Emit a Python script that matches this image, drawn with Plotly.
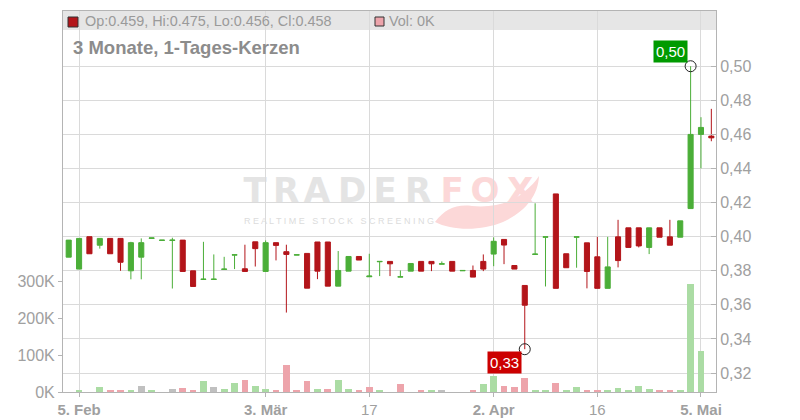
import plotly.graph_objects as go

# ---------------- data ----------------
dates = [
    "2025-02-04", "2025-02-05", "2025-02-06", "2025-02-07", "2025-02-10", "2025-02-11", "2025-02-12",
    "2025-02-13", "2025-02-14", "2025-02-17", "2025-02-18", "2025-02-19", "2025-02-20", "2025-02-21",
    "2025-02-24", "2025-02-25", "2025-02-26", "2025-02-27", "2025-02-28",
    "2025-03-03", "2025-03-04", "2025-03-05", "2025-03-06", "2025-03-07", "2025-03-10", "2025-03-11",
    "2025-03-12", "2025-03-13", "2025-03-14", "2025-03-17", "2025-03-18", "2025-03-19", "2025-03-20",
    "2025-03-21", "2025-03-24", "2025-03-25", "2025-03-26", "2025-03-27", "2025-03-28", "2025-03-31",
    "2025-04-01", "2025-04-02", "2025-04-03", "2025-04-04", "2025-04-07", "2025-04-08", "2025-04-09",
    "2025-04-10", "2025-04-11", "2025-04-14", "2025-04-15", "2025-04-16", "2025-04-17", "2025-04-22",
    "2025-04-23", "2025-04-24", "2025-04-25", "2025-04-28", "2025-04-29", "2025-04-30",
    "2025-05-02", "2025-05-05", "2025-05-06",
]
opens = [0.388, 0.381, 0.400, 0.395, 0.399, 0.399, 0.380, 0.388, 0.3990, 0.3978,
         0.3978, 0.398, 0.380, 0.3749, 0.3749, 0.3808, 0.3892, 0.3812, 0.397, 0.3796,
         0.3965, 0.3912, 0.3892, 0.3902, 0.3969, 0.3969, 0.371, 0.3798, 0.3884, 0.3765,
         0.3853, 0.3855, 0.3763, 0.3798, 0.3855, 0.3855, 0.3839, 0.3855, 0.3800, 0.3802,
         0.3855, 0.3898, 0.3984, 0.3831, 0.3714, 0.3896, 0.3997, 0.4251, 0.390, 0.3997,
         0.3964, 0.3882, 0.3697, 0.3999, 0.4052, 0.4052, 0.3937, 0.4052, 0.3999, 0.3997,
         0.4165, 0.460, 0.459]
highs = [0.398, 0.399, 0.400, 0.399, 0.399, 0.399, 0.397, 0.399, 0.3993, 0.398,
         0.3994, 0.398, 0.380, 0.397, 0.3896, 0.3882, 0.3894, 0.3953, 0.397, 0.3978,
         0.3965, 0.3953, 0.3894, 0.3902, 0.3969, 0.3969, 0.3916, 0.3884, 0.3884, 0.390,
         0.3855, 0.3855, 0.3802, 0.3843, 0.3855, 0.3855, 0.3855, 0.3855, 0.3802, 0.3831,
         0.3896, 0.3996, 0.3984, 0.3831, 0.3714, 0.4196, 0.3999, 0.4251, 0.390, 0.3999,
         0.3964, 0.3999, 0.3999, 0.4099, 0.4052, 0.4052, 0.4052, 0.4052, 0.4099, 0.4093,
         0.500, 0.4701, 0.475]
lows = [0.388, 0.381, 0.390, 0.393, 0.390, 0.380, 0.375, 0.375, 0.3990, 0.3978,
        0.3696, 0.3796, 0.3708, 0.3749, 0.3749, 0.3808, 0.381, 0.3796, 0.3825, 0.3796,
        0.3861, 0.3555, 0.3892, 0.3698, 0.3751, 0.371, 0.371, 0.3798, 0.3863, 0.3765,
        0.3769, 0.3769, 0.3763, 0.3798, 0.3798, 0.3798, 0.3839, 0.3798, 0.3800, 0.3763,
        0.3798, 0.3827, 0.3839, 0.381, 0.334, 0.3896, 0.3708, 0.3697, 0.3818, 0.3818,
        0.3697, 0.3697, 0.3697, 0.382, 0.3937, 0.3937, 0.3898, 0.3997, 0.395, 0.3997,
        0.4165, 0.4401, 0.456]
closes = [0.398, 0.399, 0.390, 0.399, 0.390, 0.385, 0.3965, 0.3965, 0.3993, 0.398,
          0.398, 0.3796, 0.3708, 0.3751, 0.3751, 0.381, 0.3894, 0.3796, 0.393, 0.3965,
          0.3949, 0.3896, 0.3894, 0.3698, 0.3798, 0.371, 0.3802, 0.3884, 0.3863, 0.3769,
          0.3855, 0.3841, 0.3765, 0.3843, 0.3798, 0.3841, 0.3841, 0.3798, 0.3802, 0.3763,
          0.381, 0.3973, 0.3951, 0.381, 0.3598, 0.3898, 0.3999, 0.3697, 0.3818, 0.3999,
          0.3796, 0.3697, 0.3823, 0.386, 0.3937, 0.3946, 0.4052, 0.3997, 0.395, 0.4093,
          0.460, 0.4641, 0.458]
volumes_k = [0, 3.6, 0, 14.4, 6.3, 6.3, 3.6, 17, 6.3, 0,
             9, 11.7, 3.6, 30.6, 14.4, 9, 25, 33, 17, 9,
             6.3, 74, 3.6, 30.6, 9, 9, 33, 9, 3.6, 14.4,
             6.3, 0, 22.5, 0, 5.4, 5.4, 5.4, 0, 0, 5.4,
             22.5, 44, 17, 14.4, 38.7, 6.3, 3.6, 25, 3.6, 14.4,
             6.3, 6.3, 6.3, 11.7, 3.6, 17, 9, 3.6, 3.6, 6.3,
             293, 112, 0]

tick_dates = ["2025-02-05", "2025-03-03", "2025-03-17", "2025-04-02", "2025-04-16", "2025-05-05"]
tick_labels = ["<b>5. Feb</b>", "<b>3. Mär</b>", "17", "<b>2. Apr</b>", "16", "<b>5. Mai</b>"]
price_ticks = [0.32, 0.34, 0.36, 0.38, 0.40, 0.42, 0.44, 0.46, 0.48, 0.50]
price_labels = ["0,32", "0,34", "0,36", "0,38", "0,40", "0,42", "0,44", "0,46", "0,48", "0,50"]
vol_ticks = [0, 100000, 200000, 300000]
vol_labels = ["0K", "100K", "200K", "300K"]

hi_date, hi_val, hi_text = "2025-05-02", 0.500, "0,50"
lo_date, lo_val, lo_text = "2025-04-07", 0.334, "0,33"
header_text = "Op:0.459, Hi:0.475, Lo:0.456, Cl:0.458"
vol_header = "Vol: 0K"
title_text = "3 Monate, 1-Tages-Kerzen"
wm_letters = ["T", "R", "A", "D", "E", "R", "F", "O", "X"]
wm_sub = "R E A L T I M E   S T O C K   S C R E E N I N G"

# ---------------- styles ----------------
GREEN = "#4bae38"
RED = "#b3151a"
V_GREEN = "#abdca4"
V_RED = "#eda4ab"
V_GRAY = "#c0c0c0"
GRID = "#dadada"
AXIS = "#b4b4b4"
TXT = "#a0a0a0"
FONT = "Liberation Sans, Arial, sans-serif"
WM_GRAY = "#e4e4e4"
WM_PINK = "#fcd8d8"

vol_colors = []
for i, c in enumerate(closes):
    if i == 0:
        vol_colors.append(V_GREEN)
    elif c > closes[i - 1]:
        vol_colors.append(V_GREEN)
    elif c < closes[i - 1]:
        vol_colors.append(V_RED)
    else:
        vol_colors.append(V_GRAY)

fig = go.Figure()
fig.add_trace(go.Bar(
    x=dates, y=[v * 1000 for v in volumes_k], marker=dict(color=vol_colors, line=dict(width=0)),
    width=0.65, yaxis="y", hoverinfo="skip",
))
fig.add_trace(go.Candlestick(
    x=dates, open=opens, high=highs, low=lows, close=closes, yaxis="y2",
    increasing=dict(line=dict(color=GREEN, width=1), fillcolor=GREEN),
    decreasing=dict(line=dict(color=RED, width=1), fillcolor=RED),
    whiskerwidth=0,
))
fig.add_trace(go.Scatter(
    x=[hi_date, lo_date], y=[hi_val, lo_val], yaxis="y2", mode="markers",
    marker=dict(symbol="circle-open", size=11, color="#222222", line=dict(width=1)),
    hoverinfo="skip",
))

# page body has an 8px margin: figure placed so that the plot area lands at
# screen x 63..716, y 11..392
OFF = 8
FW, FH = 800 - OFF, 420 - OFF
PL, PR, PT, PB = 63, 716, 11, 392
PW, PH = PR - PL, PB - PT


def px(x):
    return (x - PL) / PW


def py(y):
    return (PB - y) / PH


shapes = [
    dict(type="rect", xref="paper", yref="paper", x0=0, x1=1, y0=py(30), y1=1,
         fillcolor="#e6e6e6", line=dict(width=0), layer="below"),
    dict(type="rect", xref="paper", yref="paper", x0=px(68), x1=px(78), y0=py(27), y1=py(17),
         fillcolor=RED, line=dict(color="#333333", width=1)),
    dict(type="rect", xref="paper", yref="paper", x0=px(375), x1=px(384), y0=py(26), y1=py(17),
         fillcolor=V_RED, line=dict(color="#333333", width=1)),
]

# watermark (below the grid): fox tail + letters as shape labels
tail_pts = "M {a},{b} C {c},{d} {e},{f} {g},{h} C {i},{j} {k},{l} {m},{n} C {o},{p} {q},{r} {s},{t} " \
           "C {u},{v} {w},{x} {y},{z} C {A},{B} {C},{D} {a},{b} Z"
vals = dict(
    a=px(435), b=py(222),
    c=px(445), d=py(209), e=px(456), f=py(204), g=px(472), h=py(206),
    i=px(492), j=py(208), k=px(512), l=py(203), m=px(524), n=py(192),
    o=px(531), p=py(186), q=px(536), r=py(181), s=px(539), t=py(176),
    u=px(538), v=py(196), w=px(525), x=py(212), y=px(503), z=py(222),
    A=px(482), B=py(231), C=px(452), D=py(231),
)
shapes.append(dict(type="path", xref="paper", yref="paper", path=tail_pts.format(**vals),
                   fillcolor=WM_PINK, line=dict(width=0), layer="below"))
wm_x = [255, 286, 317, 352, 385, 418, 452, 485, 520]
for ch, xc in zip(wm_letters, wm_x):
    col = WM_GRAY if xc < 440 else WM_PINK
    shapes.append(dict(type="rect", xref="paper", yref="paper",
                       x0=px(xc - 15), x1=px(xc + 15), y0=py(208), y1=py(168),
                       fillcolor="rgba(0,0,0,0)", line=dict(width=0), layer="below",
                       label=dict(text="<b>" + ch + "</b>", textposition="middle center",
                                  font=dict(family="DejaVu Sans", size=34, color=col))))
shapes.append(dict(type="rect", xref="paper", yref="paper",
                   x0=px(239), x1=px(439), y0=py(227), y1=py(212),
                   fillcolor="rgba(0,0,0,0)", line=dict(width=0), layer="below",
                   label=dict(text=wm_sub, textposition="middle center",
                              font=dict(family=FONT, size=9, color="#dcdcdc"))))

annotations = [
    dict(xref="paper", yref="paper", x=px(83), y=py(21.5), text=header_text, showarrow=False,
         xanchor="left", yanchor="middle", font=dict(family=FONT, size=14.4, color="#9a9a9a")),
    dict(xref="paper", yref="paper", x=px(387), y=py(21.5), text=vol_header, showarrow=False,
         xanchor="left", yanchor="middle", font=dict(family=FONT, size=14.4, color="#9a9a9a")),
    dict(xref="paper", yref="paper", x=px(71), y=py(47), text="<b>" + title_text + "</b>", showarrow=False,
         xanchor="left", yanchor="middle", font=dict(family=FONT, size=18.5, color="#8c8c8c")),
    dict(x=hi_date, y=hi_val, xref="x", yref="y2", text=hi_text, showarrow=False,
         xshift=-20, yshift=15, bgcolor="#009a00", borderpad=2,
         font=dict(family=FONT, size=15, color="white")),
    dict(x=lo_date, y=lo_val, xref="x", yref="y2", text=lo_text, showarrow=False,
         xshift=-20, yshift=-13, bgcolor="#cc0000", borderpad=2,
         font=dict(family=FONT, size=15, color="white")),
]

fig.update_layout(
    width=FW, height=FH,
    margin=dict(l=PL - OFF, r=FW - (PR - OFF), t=PT - OFF, b=FH - (PB - OFF), pad=0),
    paper_bgcolor="white", plot_bgcolor="white",
    showlegend=False, bargap=0,
    font=dict(family=FONT, color=TXT),
    shapes=shapes, annotations=annotations,
    xaxis=dict(type="category", range=[-0.55, 62.45], tickvals=tick_dates, ticktext=tick_labels,
               showgrid=True, gridcolor=GRID, gridwidth=1, showline=True, linecolor=AXIS, linewidth=1,
               mirror=True, ticks="outside", ticklen=4, tickcolor=AXIS,
               tickfont=dict(family=FONT, size=15, color=TXT), rangeslider=dict(visible=False),
               fixedrange=True, automargin=False),
    yaxis=dict(range=[0, 1030000], tickvals=vol_ticks, ticktext=vol_labels, showgrid=False,
               zeroline=False, showline=True, linecolor=AXIS, linewidth=1, ticks="outside", ticklen=4,
               tickcolor=AXIS, tickfont=dict(family=FONT, size=16, color=TXT), fixedrange=True,
               automargin=False),
    yaxis2=dict(overlaying="y", side="right", range=[0.3089, 0.5324], tickvals=price_ticks,
                ticktext=price_labels, showgrid=True, gridcolor=GRID, gridwidth=1, zeroline=False,
                showline=True, linecolor=AXIS, linewidth=1, ticks="inside", ticklen=5, tickcolor=AXIS,
                tickfont=dict(family=FONT, size=16, color=TXT), fixedrange=True, automargin=False),
)

fig.write_html("out.html")
